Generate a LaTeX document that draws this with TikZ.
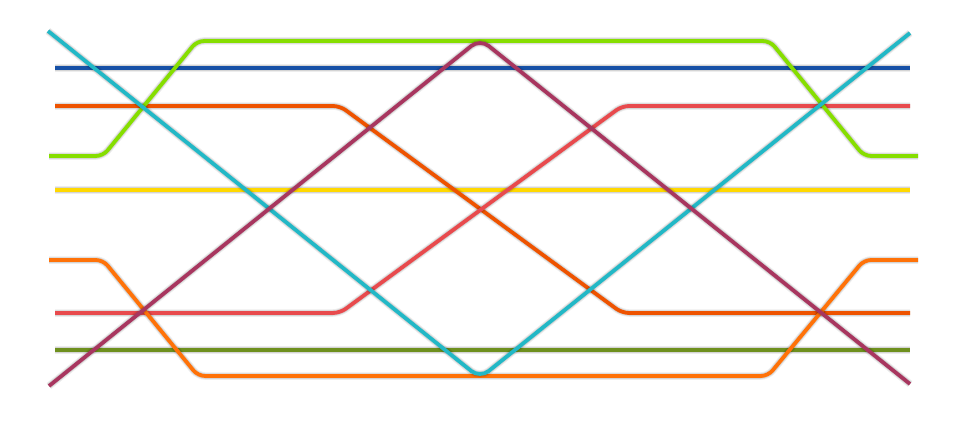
\documentclass[tikz,border=0pt]{standalone}
\definecolor{cblue}{HTML}{1650A6}
\definecolor{corangered}{HTML}{EE5300}
\definecolor{cred}{HTML}{E84A4D}
\definecolor{clime}{HTML}{86DE00}
\definecolor{cyellow}{HTML}{FFD800}
\definecolor{corange}{HTML}{FF7208}
\definecolor{colive}{HTML}{6E901E}
\definecolor{cteal}{HTML}{22B8C6}
\definecolor{cmaroon}{HTML}{A8365F}
\tikzset{
  track/.style={line width=3.8pt, line cap=butt, line join=round, rounded corners=7pt,
    preaction={draw=black, opacity=0.07, line width=7.5pt},
    preaction={draw=black, opacity=0.10, line width=5.5pt}},
}
\begin{document}
\begin{tikzpicture}[x=1pt,y=-1pt]
\useasboundingbox[fill=white] (0,0) rectangle (960,420);
% horizontal lines
\draw[track, cblue] (55,68) -- (910,68);
\draw[track, cyellow] (55,190) -- (910,190);
\draw[track, colive] (55,350) -- (910,350);
% switching lines
\draw[track, corangered] (55,106) -- (340,106) -- (622,313) -- (910,313);
\draw[track, cred] (55,313) -- (340,313) -- (622,106) -- (910,106);
\draw[track, clime] (49,156) -- (103,156) -- (197,41) -- (770,41) -- (864,156) -- (918,156);
\draw[track, corange] (49,260) -- (103,260) -- (198,376) -- (768,376) -- (864,260) -- (918,260);
% crossing diagonals
\draw[track, cteal, rounded corners=11pt] (48,31) -- (480,378) -- (910,33);
\draw[track, cmaroon, rounded corners=11pt] (49,386) -- (480,39) -- (910,384);
\end{tikzpicture}
\end{document}
